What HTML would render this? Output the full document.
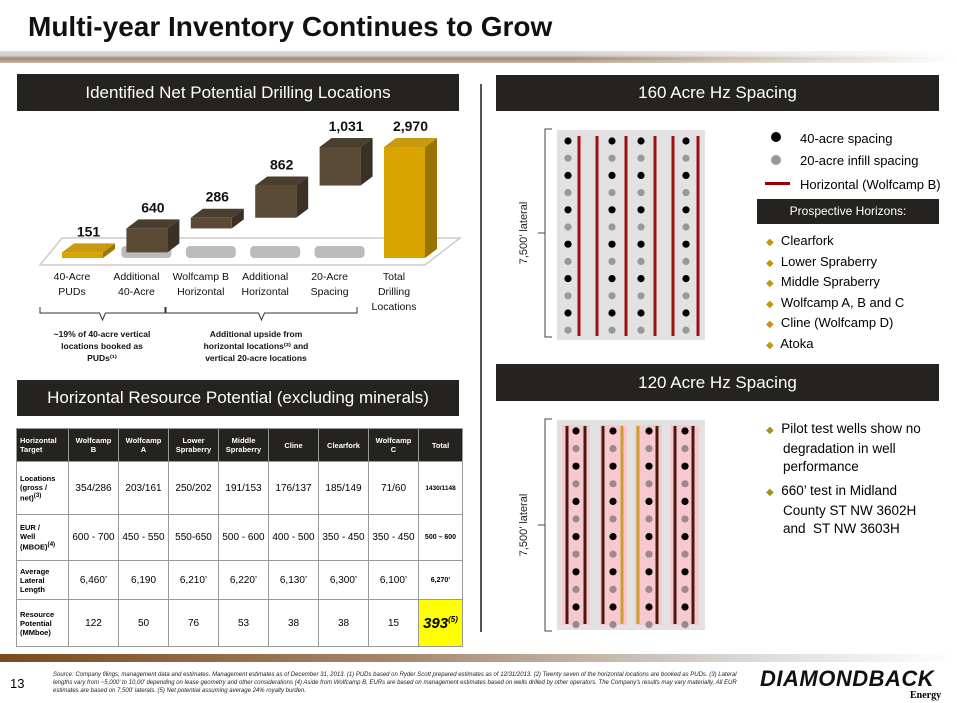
<!DOCTYPE html>
<html><head><meta charset="utf-8">
<style>
body{margin:0;width:957px;height:703px;overflow:hidden;background:#fff;position:relative;font-family:"Liberation Sans",sans-serif}
.abs{position:absolute}
.hdr{position:absolute;background:#25231f;color:#fff;font-size:17px;text-align:center;}
table{border-collapse:collapse;position:absolute;left:16px;top:428px;table-layout:fixed;width:446px}
td{border:1px solid #999;text-align:center;font-size:10px;padding:0;overflow:hidden;white-space:nowrap}
th{background:#25231f;color:#fff;font-size:7.5px;font-weight:bold;border:1px solid #999;height:32px;padding:0}
td.l{text-align:left;font-weight:bold;font-size:7.5px;padding-left:3px;white-space:normal}
.hz div{height:20.6px;line-height:20.6px}
</style></head><body>
<div class="abs" style="left:28px;top:11px;font-size:28px;font-weight:bold;color:#111">Multi-year Inventory Continues to Grow</div>
<div class="abs" style="left:0;top:51px;width:957px;height:12px;background:linear-gradient(180deg,#ddd 0,#ccc 40%,#a58a70 60%,#c9b6a3 100%);-webkit-mask:linear-gradient(90deg,#000 60%,transparent 100%)"></div>
<div class="hdr" style="left:17px;top:74px;width:442px;height:37px;line-height:37px">Identified Net Potential Drilling Locations</div>
<div class="hdr" style="left:496px;top:75px;width:443px;height:36px;line-height:36px">160 Acre Hz Spacing</div>
<div class="abs" style="left:480px;top:84px;width:2px;height:548px;background:#555"></div>

<svg class="abs" style="left:0;top:0" width="480" height="370" id="wf"></svg>

<div class="hdr" style="left:17px;top:380px;width:442px;height:36px;line-height:36px">Horizontal Resource Potential (excluding minerals)</div>
<table>
<colgroup><col style="width:52px"><col style="width:50px"><col style="width:50px"><col style="width:50px"><col style="width:50px"><col style="width:50px"><col style="width:50px"><col style="width:50px"><col style="width:44px"></colgroup>
<tr style="height:32px"><th style="text-align:left;padding-left:3px">Horizontal<br>Target</th><th>Wolfcamp<br>B</th><th>Wolfcamp<br>A</th><th>Lower<br>Spraberry</th><th>Middle<br>Spraberry</th><th>Cline</th><th>Clearfork</th><th>Wolfcamp<br>C</th><th>Total</th></tr>
<tr style="height:53px"><td class="l">Locations<br>(gross /<br>net)<sup>(3)</sup></td><td>354/286</td><td>203/161</td><td>250/202</td><td>191/153</td><td>176/137</td><td>185/149</td><td>71/60</td><td style="font-size:6.5px;font-weight:bold">1430/1148</td></tr>
<tr style="height:46px"><td class="l">EUR /<br>Well<br>(MBOE)<sup>(4)</sup></td><td>600 - 700</td><td>450 - 550</td><td>550-650</td><td>500 - 600</td><td>400 - 500</td><td>350 - 450</td><td>350 - 450</td><td style="font-size:7px;font-weight:bold">500 – 600</td></tr>
<tr style="height:39px"><td class="l">Average<br>Lateral<br>Length</td><td>6,460’</td><td>6,190</td><td>6,210’</td><td>6,220’</td><td>6,130’</td><td>6,300’</td><td>6,100’</td><td style="font-size:7px;font-weight:bold">6,270’</td></tr>
<tr style="height:47px"><td class="l">Resource<br>Potential<br>(MMboe)</td><td>122</td><td>50</td><td>76</td><td>53</td><td>38</td><td>38</td><td>15</td><td style="background:#ffff00;font-size:15px;font-weight:bold;font-style:italic">393<sup style="font-size:8px">(5)</sup></td></tr>
</table>

<svg class="abs" style="left:500px;top:115px" width="457" height="530" id="sp"></svg>

<div class="abs" style="left:800px;top:131px;font-size:13px">40-acre spacing</div>
<div class="abs" style="left:800px;top:153px;font-size:13px">20-acre infill spacing</div>
<div class="abs" style="left:800px;top:177px;font-size:13px">Horizontal (Wolfcamp B)</div>
<div class="abs" style="left:757px;top:199px;width:182px;height:25px;line-height:25px;background:#25231f;color:#fff;text-align:center;font-size:12px">Prospective Horizons:</div>
<div class="abs hz" style="left:766px;top:231px;font-size:13px">
<div><span style="color:#c8940a;font-size:10px">◆</span>&nbsp; Clearfork</div><div><span style="color:#c8940a;font-size:10px">◆</span>&nbsp; Lower Spraberry</div><div><span style="color:#c8940a;font-size:10px">◆</span>&nbsp; Middle Spraberry</div><div><span style="color:#c8940a;font-size:10px">◆</span>&nbsp; Wolfcamp A, B and C</div><div><span style="color:#c8940a;font-size:10px">◆</span>&nbsp; Cline (Wolfcamp D)</div><div><span style="color:#c8940a;font-size:10px">◆</span>&nbsp; Atoka</div></div>

<div class="hdr" style="left:496px;top:364px;width:443px;height:37px;line-height:37px">120 Acre Hz Spacing</div>
<div class="abs" style="left:766px;top:420px;font-size:13.5px;line-height:18px;width:190px;white-space:nowrap">
<div style="padding-left:17px;text-indent:-17px"><span style="color:#a89020;font-size:10px">◆</span>&nbsp; Pilot test wells show no<br>degradation in well<br>performance</div>
<div style="padding-left:17px;text-indent:-17px;margin-top:6px"><span style="color:#a89020;font-size:10px">◆</span>&nbsp; 660’ test in Midland<br>County ST NW 3602H<br>and&nbsp; ST NW 3603H</div></div>

<div class="abs" style="left:0;top:654px;width:957px;height:8px;background:linear-gradient(90deg,#7a4a1e,#a48468 40%,#ddd 80%,#fff)"></div>
<div class="abs" style="left:10px;top:676px;font-size:13px">13</div>
<div class="abs" style="left:53px;top:671px;width:690px;font-size:6px;line-height:8px;font-style:italic;color:#222">Source: Company filings, management data and estimates. Management estimates as of December 31, 2013. (1) PUDs based on Ryder Scott prepared estimates as of 12/31/2013. (2) Twenty seven of the horizontal locations are booked as PUDs. (3) Lateral lengths vary from ~5,000' to 10,00' depending on lease geometry and other considerations (4) Aside from Wolfcamp B, EURs are based on management estimates based on wells drilled by other operators. The Company's results may vary materially. All EUR estimates are based on 7,500' laterals. (5) Net potential assuming average 24% royalty burden.</div>
<div class="abs" style="left:760px;top:666px;font-size:22px;font-weight:900;font-style:italic;letter-spacing:0.5px;color:#111">DIAMONDBACK</div>
<div class="abs" style="left:910px;top:690px;font-size:10px;font-weight:bold;font-family:'Liberation Serif',serif">Energy</div>

<script>
const categories=["40-Acre|PUDs","Additional|40-Acre","Wolfcamp B|Horizontal","Additional|Horizontal","20-Acre|Spacing","Total|Drilling|Locations"];
const values=[151,640,286,862,1031,2970];
const isTotal=[false,false,false,false,false,true];
const NS="http://www.w3.org/2000/svg";
function mk(p,t,a){const e=document.createElementNS(NS,t);for(const k in a)e.setAttribute(k,a[k]);p.appendChild(e);return e;}
const wf=document.getElementById('wf');
const base=258, scale=111/2970;
function yv(v){return base-v*scale;}
function xc(i){return 62+i*64.4;}
let fl=mk(wf,'polygon',{points:"40,265 425,265 460,238 62,238",fill:"#fff",stroke:"#ccc","stroke-width":1.5});

for(let i=1;i<5;i++){const s=mk(wf,'rect',{x:xc(i)-5,y:246,width:50,height:12,rx:4,fill:"#bbb"});}
let cum=0;
values.forEach((v,i)=>{
 const lo=isTotal[i]?0:cum, hi=isTotal[i]?v:cum+v; if(!isTotal[i])cum+=v;
 const x=xc(i),w=41,yt=yv(hi),yb=yv(lo),d=12,dy=9;
 const gold=(i==0||isTotal[i]);
 const cF=gold?"#d9a400":"#5a4a36",cT=gold?"#c89a10":"#4a3e2e",cS=gold?"#9a7400":"#3a3024";
 const g=mk(wf,'g',{});
 
 
 mk(g,'polygon',{points:`${x+w},${yt} ${x+w+d},${yt-dy} ${x+w+d},${yb-dy} ${x+w},${yb}`,fill:cS});
 mk(g,'polygon',{points:`${x},${yt} ${x+d},${yt-dy} ${x+w+d},${yt-dy} ${x+w},${yt}`,fill:cT});
 mk(g,'rect',{x:x,y:yt,width:w,height:yb-yt,fill:cF});
 const t=mk(wf,'text',{x:x+w/2+6,y:yt-dy-7,"text-anchor":"middle","font-size":14,"font-weight":"bold",fill:"#111"});
 t.textContent=v.toLocaleString('en-US');
 
 
 categories[i].split('|').forEach((ln,j)=>{const c=mk(wf,'text',{x:x+10,y:280+j*15,"text-anchor":"middle","font-size":10.5,fill:"#111"});c.textContent=ln;});
});
function brace(x1,x2,name){const m=(x1+x2)/2;const p=mk(wf,'path',{d:`M${x1},307 L${x1},313 L${m-3},313 L${m},320 L${m+3},313 L${x2},313 L${x2},307`,fill:"none",stroke:"#333","stroke-width":1});}
brace(40,165,'brace-vertical');brace(166,357,'brace-horizontal');
[["~19% of 40-acre vertical","locations booked as","PUDs⁽¹⁾",102],["Additional upside from","horizontal locations⁽²⁾ and","vertical 20-acre locations",256]].forEach(a=>{for(let j=0;j<3;j++){const t=mk(wf,'text',{x:a[3],y:337+j*12,"text-anchor":"middle","font-size":8.5,"font-weight":"bold",fill:"#111"});t.textContent=a[j];}});

const sp=document.getElementById('sp');
function bracketAt(y1,y2){mk(sp,'path',{d:`M52,${y1} L45,${y1} L45,${y2} L52,${y2} M45,${(y1+y2)/2} L38,${(y1+y2)/2}`,fill:"none",stroke:"#444","stroke-width":1});
 const t=mk(sp,'text',{transform:`translate(27,${(y1+y2)/2}) rotate(-90)`,"text-anchor":"middle","font-size":11,fill:"#222"});t.textContent="7,500’ lateral";}
mk(sp,'rect',{x:57,y:15,width:148,height:210,fill:"#e2e2e2"});
bracketAt(14,222);
[79,97,126,155,173,198].forEach(x=>{const l=mk(sp,'rect',{x:x-1.5,y:21,width:3,height:200,fill:"#a01010"});});
[68,112,141,186].forEach(x=>{for(let r=0;r<12;r++){const c=mk(sp,'circle',{cx:x,cy:26+r*17.2,r:3.6,fill:r%2?"#999":"#000"});}});
mk(sp,'circle',{cx:276,cy:22,r:5,fill:"#000"});mk(sp,'circle',{cx:276,cy:45,r:5,fill:"#999"});mk(sp,'rect',{x:265,y:67,width:25,height:3,fill:"#900"});
mk(sp,'rect',{x:57,y:305,width:148,height:210,fill:"#e2e2e2"});
bracketAt(304,516);
[[62,90],[100,127],[135,162],[170,199]].forEach(b=>mk(sp,'rect',{x:b[0],y:310,width:b[1]-b[0],height:200,fill:"#f8c8d0"}));
[[67,"#4a1a0a"],[85,"#4a1a0a"],[103,"#4a1a0a"],[122,"#c8a030"],[138,"#c8a030"],[157,"#4a1a0a"],[175,"#4a1a0a"],[193,"#4a1a0a"]].forEach(a=>{const l=mk(sp,'rect',{x:a[0]-1.5,y:311,width:3,height:198,fill:a[1]});});
[76,113,149,185].forEach(x=>{for(let r=0;r<12;r++){const c=mk(sp,'circle',{cx:x,cy:316+r*17.6,r:3.6,fill:r%2?"#9a8a90":"#000"});}});
</script>
</body></html>
